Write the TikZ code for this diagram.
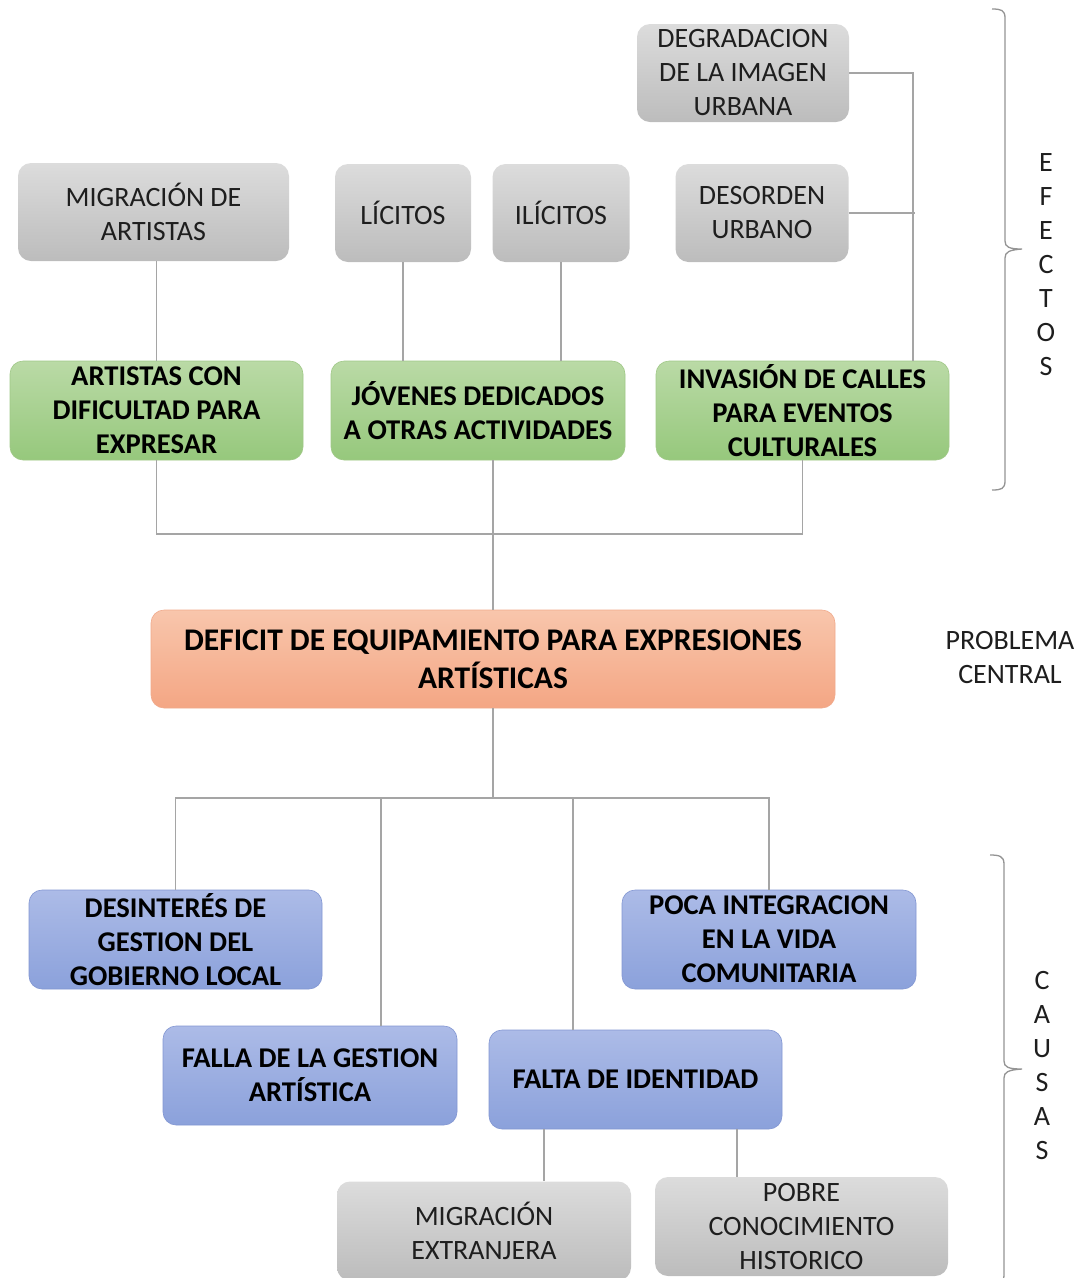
\documentclass[tikz,border=0pt]{standalone}
\usepackage{fontspec}
\setmainfont{Carlito}
\definecolor{gtop}{RGB}{220,220,220}
\definecolor{gbot}{RGB}{188,188,188}
\definecolor{grtop}{RGB}{186,218,166}
\definecolor{grbot}{RGB}{150,200,124}
\definecolor{grline}{RGB}{160,200,135}
\definecolor{otop}{RGB}{248,198,172}
\definecolor{obot}{RGB}{244,166,132}
\definecolor{oline}{RGB}{240,170,140}
\definecolor{btop}{RGB}{172,187,231}
\definecolor{bbot}{RGB}{139,161,219}
\definecolor{bline}{RGB}{130,150,210}
\definecolor{conn}{RGB}{165,165,165}
\definecolor{txt}{RGB}{30,30,30}
\tikzset{
  box/.style={rounded corners=13pt, minimum width=293pt, minimum height=99pt,
    align=center, inner sep=2pt, font=\fontsize{28}{34}\selectfont, text=txt},
  graybox/.style={box, top color=gtop, bottom color=gbot},
  greenbox/.style={box, top color=grtop, bottom color=grbot, draw=grline, line width=0.6pt, font=\fontsize{28.6}{34}\selectfont\bfseries, text=black},
  orangebox/.style={box, top color=otop, bottom color=obot, draw=oline, line width=0.6pt, font=\fontsize{31.5}{38}\selectfont\bfseries, text=black},
  bluebox/.style={box, top color=btop, bottom color=bbot, draw=bline, line width=0.6pt, font=\fontsize{28.6}{34}\selectfont\bfseries, text=black},
  cline/.style={draw=conn, line width=1.3pt},
  lbl/.style={font=\fontsize{28}{34}\selectfont, text=txt, align=center, inner sep=0pt},
  bracepath/.style={draw=conn!90!black, line width=1.3pt}
}
\begin{document}
\begin{tikzpicture}[x=1pt,y=-1pt]
\useasboundingbox (0,0) rectangle (1081,1278);
\clip (0,0) rectangle (1081,1278);
% effects
\node[graybox, minimum width=212pt, minimum height=98pt] (degr) at (743,73) {DEGRADACION\\DE LA IMAGEN\\URBANA};
\node[graybox, minimum width=271pt, minimum height=98pt] (migart) at (153.5,212) {MIGRACIÓN DE\\ARTISTAS};
\node[graybox, minimum width=136pt, minimum height=98pt] (lic) at (403,213) {LÍCITOS};
\node[graybox, minimum width=137pt, minimum height=98pt] (ilic) at (561,213) {ILÍCITOS};
\node[graybox, minimum width=173pt, minimum height=98pt] (deso) at (762,213) {DESORDEN\\URBANO};
\node[greenbox] (artcon) at (156.5,410.5) {ARTISTAS CON\\DIFICULTAD PARA\\EXPRESAR};
\node[greenbox, minimum width=294pt] (jov) at (478,410.5) {JÓVENES DEDICADOS\\A OTRAS ACTIVIDADES};
\node[greenbox] (inv) at (802.5,410.5) {INVASIÓN DE CALLES\\PARA EVENTOS\\CULTURALES};
% central
\node[orangebox, minimum width=684pt, minimum height=98pt] (def) at (493,659) {DEFICIT DE EQUIPAMIENTO PARA EXPRESIONES\\ARTÍSTICAS};
% causes
\node[bluebox] (desint) at (175.5,939.5) {DESINTERÉS DE\\GESTION DEL\\GOBIERNO LOCAL};
\node[bluebox, minimum width=294pt] (poca) at (769,939.5) {POCA INTEGRACION\\EN LA VIDA\\COMUNITARIA};
\node[bluebox, minimum width=294pt] (falla) at (310,1075.5) {FALLA DE LA GESTION\\ARTÍSTICA};
\node[bluebox] (falta) at (635.5,1079.5) {FALTA DE IDENTIDAD};
\node[graybox, minimum width=294pt] (mext) at (484,1231) {MIGRACIÓN\\EXTRANJERA};
\node[graybox] (pobre) at (801.5,1226.5) {POBRE\\CONOCIMIENTO\\HISTORICO};
% side labels
\node[lbl] (efe) at (1046,265) {E\\F\\E\\C\\T\\O\\S};
\node[lbl] (pc) at (1010,657) {PROBLEMA\\CENTRAL};
\node[lbl] (cau) at (1042,1065) {C\\A\\U\\S\\A\\S};
% helper coordinates
\coordinate (rx) at (913,0);
\coordinate (j1) at (493,534);
\coordinate (j2) at (493,798);
\coordinate (fx) at (381,798);
\coordinate (ix) at (573,798);
\coordinate (b1) at (544,0);
\coordinate (b2) at (737,0);
% connectors
\draw[cline] (artcon.north |- migart.south) -- (artcon.north);
\draw[cline] (lic.south) -- (lic.south |- jov.north);
\draw[cline] (ilic.south) -- (ilic.south |- jov.north);
\draw[cline] (degr.east) -| (inv.north -| rx);
\draw[cline] (deso.east) -- ([xshift=2pt]deso.east -| rx);
\draw[cline] (artcon.south) |- (j1) -| (inv.south);
\draw[cline] (def.north |- jov.south) -- (def.north);
\draw[cline] (def.south) -- (j2);
\draw[cline] (desint.north) |- (j2) -| (poca.north);
\draw[cline] (fx) -- (fx |- falla.north);
\draw[cline] (ix) -- (ix |- falta.north);
\draw[cline] (falta.south -| b1) -- (mext.north -| b1);
\draw[cline] (falta.south -| b2) -- (pobre.north -| b2);
% braces
\draw[bracepath] (992,9) .. controls (1001,9) and (1005,10) .. (1005,18) -- (1005,241)
  .. controls (1005,247) and (1009,249) .. (1022,249)
  .. controls (1009,250) and (1005,252) .. (1005,258) -- (1005,481)
  .. controls (1005,489) and (1001,490) .. (992,490);
\draw[bracepath] (990,855) .. controls (999,855) and (1004,856) .. (1004,864) -- (1004,1061)
  .. controls (1004,1067) and (1008,1069) .. (1022,1069)
  .. controls (1008,1070) and (1004,1072) .. (1004,1078) -- (1004,1275)
  .. controls (1004,1283) and (999,1284) .. (990,1284);
\end{tikzpicture}
\end{document}
